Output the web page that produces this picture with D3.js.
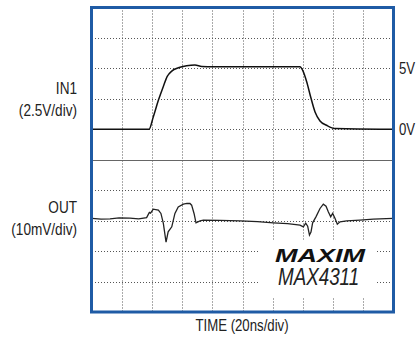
<!DOCTYPE html>
<html>
<head>
<meta charset="utf-8">
<script src="https://cdn.jsdelivr.net/npm/d3@7"></script>
<style>
  html, body { margin: 0; padding: 0; background: #fff; }
  svg { display: block; }
  .lbl { font-family: "Liberation Sans", Arial, sans-serif; fill: #222; }
</style>
</head>
<body>
<div id="chart"></div>
<script>
// IN1 trace: time (ns), volts
const in1Time = [0, 37.9, 40.7, 44.1, 47.4, 50.0, 53.0, 57.4, 62.9, 68.4, 72.9, 80.6, 110, 138.2,
  140.0, 142.7, 145.3, 148.2, 151.5, 155.9, 161.5, 191.4, 200];
const in1Volts = [0, 0, 1.01, 2.38, 3.52, 4.34, 4.78, 5.05, 5.21, 5.27, 5.16, 5.13, 5.13, 5.13,
  4.84, 3.88, 2.65, 1.42, 0.68, 0.33, 0.06, 0, 0];

// OUT trace: time (ns), millivolts
const outTime = [0, 6, 12, 18, 25.2, 31, 36.3, 38.1, 38.9, 40.7, 44.1, 45.8, 47.4, 49.2, 50.6, 53.0,
  55.1, 57.3, 60.7, 63.1, 65.1, 66.2, 67.8, 69.1, 71.8, 74.0, 85, 98.3, 110, 120.5, 130, 138.2,
  140.4, 142.0, 143.3, 144.5, 145.5, 146.6, 148.8, 151.5, 153.7, 155.5, 157.0, 158.6, 159.9,
  161.5, 163.0, 164.8, 169.2, 178, 186.9, 200];
const outMv = [0.72, 0.5, 0.56, 0.9, 0.82, 0.6, 0.98, 2.69, 2.46, 3.77, 3.44, 2.36, -0.92, -7.05, -3.67, -2.03,
  2.36, 4.52, 5.41, 5.64, 5.64, 5.08, 2.36, -0.72, -0.07, 0.16, 0.1, -0.07, -0.3, -0.72, -1.0, -1.48,
  -2.03, -0.82, -1.80, -4.75, -3.77, -0.72, 1.25, 4.0, 5.41, 4.75, 2.89, 1.25, 2.36,
  0.72, -1.15, -0.39, -0.07, 0.2, 0.49, 0.72];

const timeTicks = d3.range(0, 201, 20);   // 20ns/div, 10 divisions
const divTicks = d3.range(0, 11);          // vertical divisions

const width = 416, height = 339;
const plotLeft = 92, plotRight = 393, plotTop = 7.5, plotBottom = 312;

const svg = d3.select('#chart').append('svg')
  .attr('width', width)
  .attr('height', height);

const x = d3.scaleLinear().domain([0, 200]).range([plotLeft, plotRight]);
const yDiv = d3.scaleLinear().domain([0, 10]).range([plotTop, plotBottom]);
// IN1: 2.5V/div, 0V four divisions from the top
const yIn = d3.scaleLinear().domain([10, -15]).range([plotTop, plotBottom]);
// OUT: 10mV/div, reference seven divisions from the top
const yOut = d3.scaleLinear().domain([70, -30]).range([plotTop, plotBottom]);

// grid
const grid = svg.append('g');
grid.selectAll('.vg')
  .data(timeTicks.slice(1, -1))
  .enter().append('line')
  .attr('x1', d => Math.round(x(d)) + 0.5).attr('x2', d => Math.round(x(d)) + 0.5)
  .attr('y1', plotTop).attr('y2', plotBottom)
  .attr('stroke', '#555').attr('stroke-width', 1)
  .attr('stroke-dasharray', '1,2');
grid.selectAll('.hg')
  .data(divTicks.slice(1, -1).filter(d => d !== 5))
  .enter().append('line')
  .attr('x1', plotLeft).attr('x2', plotRight)
  .attr('y1', d => Math.round(yDiv(d)) + 0.5).attr('y2', d => Math.round(yDiv(d)) + 0.5)
  .attr('stroke', '#555').attr('stroke-width', 1)
  .attr('stroke-dasharray', '1,2');

// centre line
svg.append('line')
  .attr('x1', plotLeft).attr('x2', plotRight)
  .attr('y1', Math.round(yDiv(5)) + 0.5).attr('y2', Math.round(yDiv(5)) + 0.5)
  .attr('stroke', '#666').attr('stroke-width', 1.2);

// white box behind logo
svg.append('rect')
  .attr('x', 259).attr('y', 241)
  .attr('width', 118).attr('height', 56)
  .attr('fill', '#fff');

const line = d3.line().curve(d3.curveMonotoneX);

svg.append('path')
  .datum(in1Time.map((t, i) => [x(t), yIn(in1Volts[i])]))
  .attr('d', line)
  .attr('fill', 'none')
  .attr('stroke', '#111')
  .attr('stroke-width', 1.5);

svg.append('path')
  .datum(outTime.map((t, i) => [x(t), yOut(outMv[i])]))
  .attr('d', d3.line())
  .attr('fill', 'none')
  .attr('stroke', '#222')
  .attr('stroke-width', 1.3);

// frame
svg.append('rect')
  .attr('x', plotLeft - 0.5).attr('y', plotTop)
  .attr('width', plotRight - plotLeft + 1).attr('height', plotBottom - plotTop)
  .attr('fill', 'none')
  .attr('stroke', '#1f5ba5')
  .attr('stroke-width', 3);

// condensed label helper (no narrow font installed, so squeeze horizontally)
function label(tx, ty, str, size, anchor, italic) {
  const g = svg.append('g').attr('transform', `translate(${tx},${ty}) scale(0.8,1)`);
  g.append('text').attr('class', 'lbl')
    .attr('text-anchor', anchor || 'start')
    .style('font-size', size + 'px')
    .style('font-style', italic ? 'italic' : 'normal')
    .text(str);
}

label(77, 94, 'IN1', 17, 'end');
label(77, 116, '(2.5V/div)', 17, 'end');
label(77, 213, 'OUT', 17, 'end');
label(77, 235, '(10mV/div)', 17, 'end');

label(399, yIn(5) + 6, '5V', 16.5);
label(399, yIn(0) + 6, '0V', 16.5);

label(242, 331, 'TIME (20ns/div)', 16.5, 'middle');

// logo
svg.append('text')
  .attr('x', 275).attr('y', 262)
  .attr('textLength', 90).attr('lengthAdjust', 'spacingAndGlyphs')
  .style('font-family', '"Liberation Sans", Arial, sans-serif')
  .style('font-weight', 900).style('font-style', 'italic')
  .style('font-size', '18px').style('fill', '#111')
  .text('MAXIM');
label(278, 285, 'MAX4311', 23.5, 'start', true);
</script>
</body>
</html>
